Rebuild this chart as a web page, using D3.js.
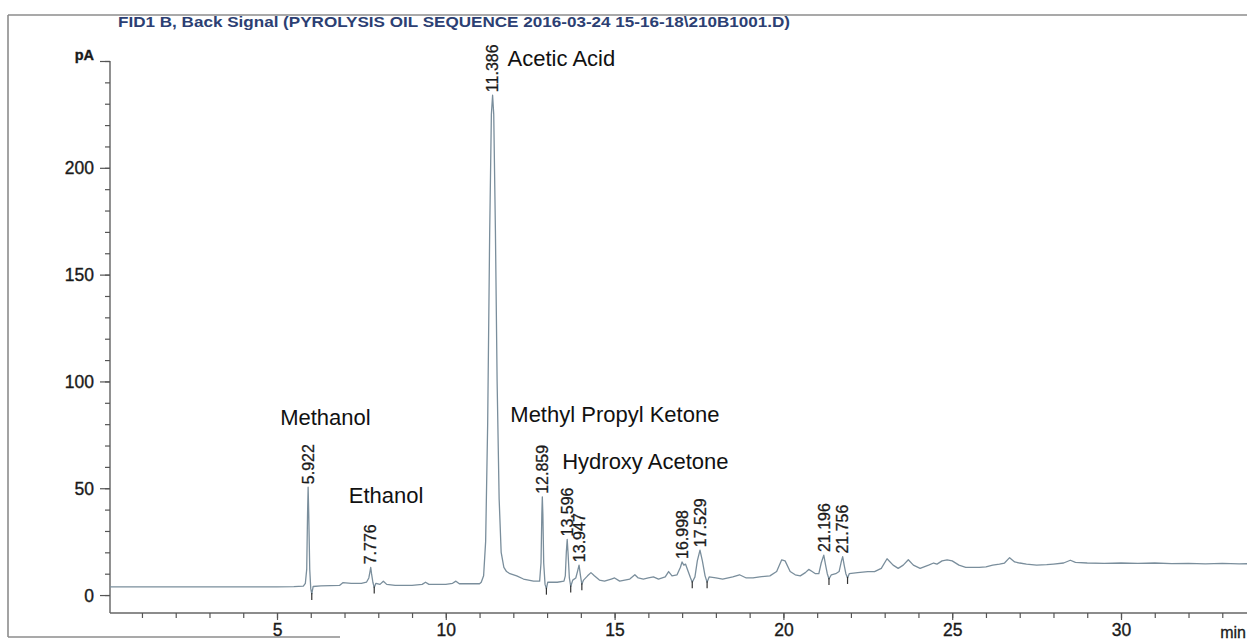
<!DOCTYPE html>
<html>
<head>
<meta charset="utf-8">
<script src="https://cdn.jsdelivr.net/npm/d3@7"></script>
<style>
  html, body { margin: 0; padding: 0; background: #fff; }
  svg { display: block; }
  text { font-family: "Liberation Sans", Arial, sans-serif; }
</style>
</head>
<body>
<svg id="chart" width="1247" height="641"></svg>
<script>
// FID detector trace: retention time (min) and signal (pA)
const retentionTime = [
  0.05, 1.0, 2.0, 3.0, 4.0, 5.0, 5.5, 5.78, 5.84, 5.88, 5.905, 5.922, 5.94, 5.97, 6.00, 6.03, 6.07, 6.3,
  6.85, 6.95, 7.2, 7.5, 7.65, 7.72, 7.755, 7.776, 7.80, 7.84, 7.88, 7.93, 8.05, 8.15, 8.25, 8.5, 9.0,
  9.3, 9.4, 9.5, 10.0, 10.2, 10.3, 10.4, 11.0,
  11.05, 11.12, 11.18, 11.24, 11.30, 11.35, 11.386, 11.42, 11.47, 11.52, 11.58, 11.64, 11.72, 11.8,
  11.9, 12.1, 12.3, 12.6, 12.78, 12.82, 12.845, 12.859, 12.875, 12.90, 12.94, 12.98, 13.02, 13.3, 13.5,
  13.54, 13.57, 13.596, 13.62, 13.66, 13.70, 13.76, 13.85, 13.90, 13.947, 13.99, 14.03, 14.08, 14.2,
  14.3, 14.4, 14.55, 14.7, 14.9, 15.0, 15.15, 15.3, 15.45, 15.6, 15.7, 15.85, 16.0, 16.15, 16.3, 16.5,
  16.6, 16.7, 16.85, 16.95, 16.998, 17.05, 17.1, 17.18, 17.25, 17.30, 17.38, 17.45, 17.529, 17.6,
  17.68, 17.74, 17.8, 18.0, 18.2, 18.5, 18.7, 18.9, 19.1, 19.3, 19.6, 19.8, 19.95, 20.05, 20.2, 20.35,
  20.5, 20.65, 20.75, 20.85, 20.95, 21.05, 21.12, 21.196, 21.25, 21.3, 21.35, 21.42, 21.55, 21.65,
  21.72, 21.756, 21.80, 21.85, 21.90, 21.95, 22.2, 22.5, 22.7, 22.9, 23.07, 23.25, 23.4, 23.55, 23.7,
  23.85, 24.05, 24.3, 24.45, 24.55, 24.7, 24.85, 25.0, 25.2, 25.4, 25.8, 26.0, 26.2, 26.4, 26.55, 26.7,
  26.85, 27.0, 27.2, 27.5, 27.8, 28.0, 28.3, 28.5, 28.65, 29.0, 29.5, 30.0, 30.5, 31.0, 31.5, 32.0,
  32.5, 33.0, 33.5, 34.0
];
const signalPA = [
  3.8, 3.8, 3.8, 3.8, 3.8, 3.8, 3.9, 4.2, 5.5, 12, 38, 50.5, 38, 12, 3, 0.5, 4, 4.3,
  4.5, 5.8, 5.5, 5.5, 6, 8, 11, 13, 10, 6, 3.5, 5.5, 5, 6.5, 5, 4.5, 4.5,
  5, 6, 5, 5, 5.5, 6.5, 5.3, 5.3,
  6, 9, 25, 80, 170, 225, 234, 225, 170, 100, 45, 20, 13, 11,
  10, 9, 7.5, 6.5, 6.5, 15, 38, 46, 38, 15, 5, 3, 6, 6, 6.5,
  9, 20, 26, 20, 8, 4, 7, 8, 11, 14, 9, 5, 7, 9,
  10.5, 9, 7, 6.5, 7.5, 8, 6.5, 7, 7.5, 9.5, 8, 7.5, 8, 8.5, 7.5, 8.5,
  11, 9, 9.5, 13, 15.5, 14, 14.5, 11, 8, 6, 8.5, 16, 21, 16,
  9, 6, 8.5, 8, 7.5, 8.5, 9.5, 8, 8, 8.5, 9, 11, 16.5, 16, 11, 9.5,
  9, 10.5, 12, 11, 10, 10, 15, 18.7, 14, 10, 7.5, 9.5, 10, 11,
  16, 18, 14, 10, 8, 10, 10.5, 11, 11, 12.5, 17, 14, 12.5, 14, 16.5,
  14, 12.5, 14, 15, 14.5, 16, 16.5, 16, 14, 13, 13, 13.2, 14, 14.5, 15, 17.5,
  15.5, 15, 14.5, 14, 14.2, 14.5, 15, 16.3, 15.3, 15, 14.8, 15, 14.8, 15, 14.7, 14.8,
  14.6, 14.8, 14.6, 14.7
];

// Integrated peaks: retention time label and apex height
const peakTimes = [5.922, 7.776, 11.386, 12.859, 13.596, 13.947, 16.998, 17.529, 21.196, 21.756];
const peakApexPA = [50.5, 13, 234, 46, 26, 14, 15.5, 21, 18.7, 18];

// Identified compounds and the peak each one belongs to
const compoundNames = ["Methanol", "Ethanol", "Acetic Acid", "Methyl Propyl Ketone", "Hydroxy Acetone"];
const compoundPeaks = [5.922, 7.776, 11.386, 12.859, 13.596];

// Integration event marks (start/end of peaks)
const eventTimes = [6.03, 7.88, 12.98, 13.70, 14.03, 17.30, 17.74, 21.35, 21.90];

const xTicks = [5, 10, 15, 20, 25, 30];
const yTicks = [0, 50, 100, 150, 200];
const titleText = "FID1 B, Back Signal (PYROLYSIS OIL SEQUENCE 2016-03-24 15-16-18\\210B1001.D)";

const svg = d3.select("#chart");
const W = 1247, H = 641;
const labelFont = "Liberation Sans, Arial, sans-serif";

svg.append("rect").attr("width", W).attr("height", H).attr("fill", "#fff");

// Plot geometry
const plot = { left: 110, top: 61, bottom: 613, x0: 108.2 };
const x = d3.scaleLinear().domain([0, 34]).range([plot.x0, plot.x0 + 34 * 33.76]);
const y = d3.scaleLinear().domain([-8.4, 250]).range([plot.bottom, plot.top]);

// Outer report frame
const frame = svg.append("g").attr("stroke", "#8c8c8c").attr("stroke-width", 1.6).attr("fill", "none");
frame.append("line").attr("x1", 8).attr("x2", W + 5).attr("y1", 15).attr("y2", 15);
frame.append("line").attr("x1", 8).attr("x2", 8).attr("y1", 15).attr("y2", 637);
frame.append("line").attr("x1", 8).attr("x2", 340).attr("y1", 637).attr("y2", 637);

// Title
svg.append("text")
  .attr("x", 118).attr("y", 27)
  .attr("font-size", 14.5)
  .attr("font-weight", "bold")
  .attr("textLength", 672)
  .attr("lengthAdjust", "spacingAndGlyphs")
  .attr("fill", "#2c3f73")
  .text(titleText);

// Y axis
const yAxis = svg.append("g").attr("transform", `translate(${plot.left},0)`);
yAxis.append("line").attr("y1", y(250)).attr("y2", plot.bottom).attr("stroke", "#555").attr("stroke-width", 1.3);
yAxis.append("g")
  .call(d3.axisLeft(y).tickValues(d3.range(0, 251, 10)).tickSize(5).tickFormat(""))
  .call(g => g.select(".domain").remove())
  .call(g => g.selectAll("line").attr("stroke", "#555").attr("stroke-width", 1.2));
yAxis.append("g")
  .call(d3.axisLeft(y).tickValues(yTicks.concat([250])).tickSize(10).tickPadding(6)
    .tickFormat(d => d === 250 ? "pA" : d))
  .call(g => g.select(".domain").remove())
  .call(g => g.selectAll("line").attr("stroke", "#555").attr("stroke-width", 1.2))
  .call(g => g.selectAll("text")
    .attr("font-family", labelFont)
    .attr("font-size", d => d === 250 ? 14.5 : 17.5)
    .attr("fill", "#1a1a1a")
    .attr("stroke", "#1a1a1a").attr("stroke-width", 0.35)
    .attr("font-weight", d => d === 250 ? "bold" : "normal")
    .attr("dy", d => d === 250 ? "-0.1em" : "0.34em"));

// X axis
const xAxis = svg.append("g").attr("transform", `translate(0,${plot.bottom})`);
xAxis.append("line").attr("x1", plot.left).attr("x2", W + 5).attr("stroke", "#666").attr("stroke-width", 1.3);
xAxis.append("g")
  .call(d3.axisBottom(x).tickValues(d3.range(1, 34)).tickSize(5).tickFormat(""))
  .call(g => g.select(".domain").remove())
  .call(g => g.selectAll("line").attr("stroke", "#555").attr("stroke-width", 1.2));
xAxis.append("g")
  .call(d3.axisBottom(x).tickValues(xTicks).tickSize(7).tickPadding(4))
  .call(g => g.select(".domain").remove())
  .call(g => g.selectAll("line").attr("stroke", "#555").attr("stroke-width", 1.2))
  .call(g => g.selectAll("text")
    .attr("font-family", labelFont)
    .attr("font-size", 17.5).attr("fill", "#1a1a1a")
    .attr("stroke", "#1a1a1a").attr("stroke-width", 0.35));
xAxis.append("text")
  .attr("x", 1246).attr("y", 25)
  .attr("text-anchor", "end")
  .attr("font-size", 16).attr("fill", "#1a1a1a")
  .attr("stroke", "#1a1a1a").attr("stroke-width", 0.3)
  .text("min");

// Signal trace
const trace = retentionTime.map((t, i) => [t, signalPA[i]]);
svg.append("path")
  .datum(trace)
  .attr("fill", "none")
  .attr("stroke", "#7a8e9c")
  .attr("stroke-width", 1.3)
  .attr("stroke-linejoin", "round")
  .attr("d", d3.line().x(d => x(d[0])).y(d => y(d[1])));

// Integration event marks
const sigAt = t => {
  const i = d3.bisectLeft(retentionTime, t);
  return signalPA[Math.min(i, signalPA.length - 1)];
};
svg.append("g").selectAll("line")
  .data(eventTimes)
  .join("line")
  .attr("x1", d => x(d)).attr("x2", d => x(d))
  .attr("y1", d => y(sigAt(d)) - 1).attr("y2", d => y(sigAt(d)) + 6)
  .attr("stroke", "#333").attr("stroke-width", 1.2);

// Retention time labels, reading upward from each apex
svg.append("g").selectAll("text")
  .data(peakTimes)
  .join("text")
  .attr("transform", (d, i) => `translate(${x(d)},${y(peakApexPA[i]) - 3}) rotate(-90)`)
  .attr("dy", "0.36em")
  .attr("font-size", 16)
  .attr("fill", "#1a1a1a")
  .attr("stroke", "#1a1a1a").attr("stroke-width", 0.3)
  .text(d => d.toFixed(3));

// Compound names
const nameOffset = {
  "Methanol": [-28, 425],
  "Ethanol": [-22, 503],
  "Acetic Acid": [15, 66],
  "Methyl Propyl Ketone": [-32, 422],
  "Hydroxy Acetone": [-5, 469]
};
svg.append("g").selectAll("text")
  .data(compoundNames)
  .join("text")
  .attr("x", (d, i) => x(compoundPeaks[i]) + nameOffset[d][0])
  .attr("y", d => nameOffset[d][1])
  .attr("font-size", 22)
  .attr("fill", "#111")
  .text(d => d);
</script>
</body>
</html>
